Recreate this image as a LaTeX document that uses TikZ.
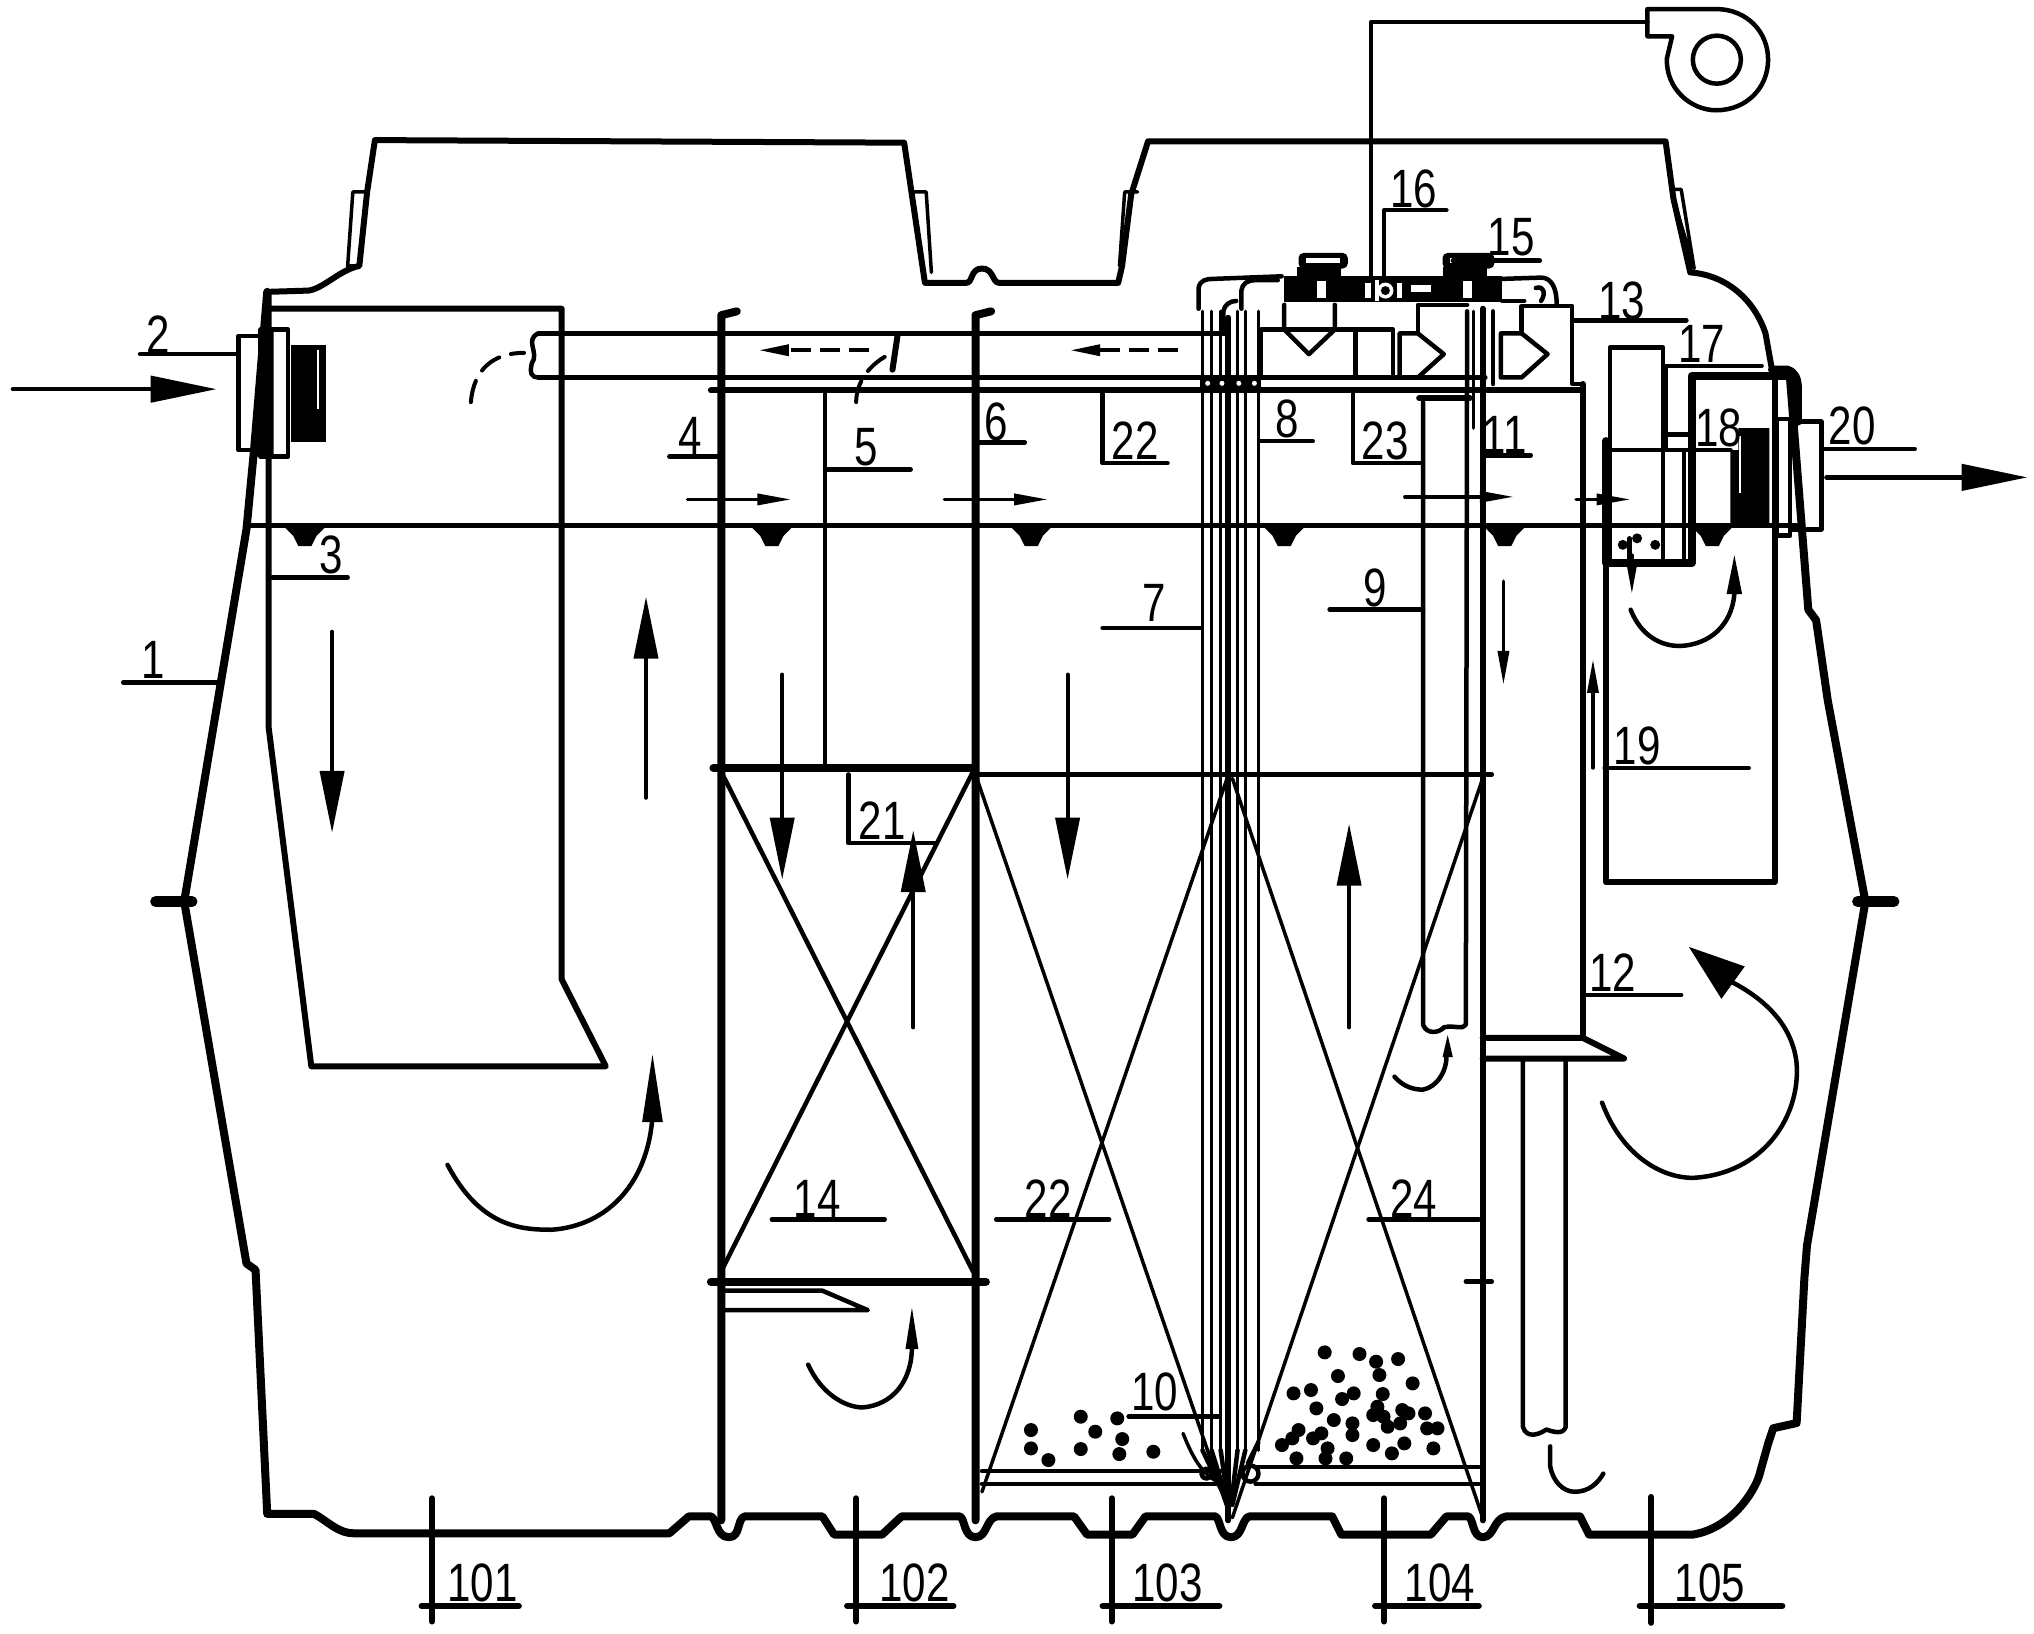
\documentclass[tikz,border=0pt]{standalone}
\usepackage{fontspec}
\setmainfont[FakeStretch=0.78]{Liberation Sans}
\usetikzlibrary{arrows.meta}
\tikzset{
  wall/.style={line width=6pt,line join=round,line cap=round},
  thick wall/.style={line width=8pt,line join=round,line cap=round},
  ln/.style={line width=4.5pt,line join=round,line cap=round},
  fine/.style={line width=3.5pt,line join=round,line cap=round},
  lab/.style={inner sep=0pt,font=\fontsize{54}{54}\selectfont},
  bigflow/.style={line width=4.5pt,line cap=round,-{Triangle[length=66pt,width=26pt]}},
  midflow/.style={line width=4pt,line cap=round,-{Triangle[length=62pt,width=24pt]}},
  smallflow/.style={line width=3.5pt,line cap=round,-{Triangle[length=34pt,width=11pt]}},
  dashflow/.style={line width=3.5pt,dash pattern=on 20pt off 9pt,-{Triangle[length=30pt,width=11pt]}},
  curveln/.style={line width=4.5pt,line cap=round},
  dashcurve/.style={line width=4pt,line cap=round,dash pattern=on 22pt off 12pt},
}
\begin{document}
\begin{tikzpicture}[x=1.2972pt,y=-1.2972pt]
\useasboundingbox (0,0) rectangle (1568,1259.6);
\fill[white] (0,0) rectangle (1568,1259.6);

% ---------- outer tank
\draw[thick wall] (206,225) -- (196,345) -- (190,408) -- (142,695) -- (190,974) -- (197,979) -- (206,1167) -- (242,1167)
  .. controls (252,1172) and (260,1182) .. (273,1182) -- (516,1182) -- (531,1169) -- (548,1169)
  .. controls (553,1171) and (552,1185) .. (562,1185) .. controls (571,1185) and (568,1171) .. (574,1169)
  -- (634,1169) -- (643,1183) -- (680,1183) -- (695,1169) -- (740,1169)
  .. controls (744,1171) and (743,1185) .. (752,1185) .. controls (761,1185) and (760,1171) .. (768,1169)
  -- (828,1169) -- (838,1183) -- (873,1183) -- (883,1169) -- (937,1169)
  .. controls (941,1171) and (940,1185) .. (949,1185) .. controls (958,1185) and (957,1171) .. (963,1169)
  -- (1027,1169) -- (1034,1183) -- (1103,1183) -- (1115,1169) -- (1132,1169)
  .. controls (1136,1171) and (1135,1185) .. (1143,1185) .. controls (1152,1185) and (1151,1171) .. (1161,1169)
  -- (1218,1169) -- (1225,1183) -- (1305,1183) .. controls (1335,1178) and (1352,1150) .. (1356,1138)
  -- (1363,1113) -- (1367,1101) -- (1385,1097) -- (1391,985) -- (1393,960) -- (1438,695) -- (1409,540) -- (1400,478) -- (1394,470) -- (1380,293);
\draw[thick wall] (1366,285) -- (1378,285) .. controls (1384,287) and (1386,292) .. (1386,300) -- (1386,325);
\draw[wall] (1366,285) -- (1361,257) .. controls (1352,230) and (1330,212) .. (1303,210) -- (1290,153) -- (1284,109) -- (885,109) -- (872,150) -- (865,205) -- (862,218)
  -- (770,218) .. controls (765,218) and (766,207) .. (757,207) .. controls (748,207) and (750,218) .. (745,218) -- (713,218) -- (697,110) -- (289,108) -- (283,148) -- (277,205)
  .. controls (262,208) and (250,222) .. (238,224) -- (206,225);
% lid wedges and waist nubs
\draw[fine] (1290,146) -- (1296,146) -- (1306,207) -- (1290,153);
\draw[fine] (282,148) -- (272,148) -- (268,205) -- (277,205);
\draw[fine] (705,148) -- (714,148) -- (718,210);
\draw[fine] (877,148) -- (867,148) -- (863,205);
\draw[line width=11pt,line cap=round] (120,695) -- (148,695);
\draw[line width=11pt,line cap=round] (1432,695) -- (1460,695);

% ---------- inlet baffle
\draw[wall] (207,225) -- (207,560) -- (240,822) -- (467,822) -- (433,755) -- (433,238) -- (207,238);

% ---------- water level and skimmer caps
\draw[ln] (190,405) -- (1385,405);
\foreach \c in {235,595,795,990,1160,1320}
  \fill (\c-17,405) -- (\c-9,413) -- (\c-5,421) -- (\c+5,421) -- (\c+9,413) -- (\c+17,405) -- cycle;

% ---------- partition walls
\draw[thick wall] (568,240) -- (556,243) -- (556,1172);
\draw[thick wall] (764,240) -- (752,243) -- (752,1172);
\draw[wall] (1143,238) -- (1143,1172);

% ---------- top pipe and beams
\draw[ln] (415,257) -- (945,257);
\draw[ln] (415,291) -- (1145,291);
\draw[ln] (415,257) .. controls (404,262) and (416,272) .. (410,280) .. controls (408,288) and (410,291) .. (415,291);
\draw[line width=6pt,line cap=round] (692,258) -- (688,285);
\draw[wall] (548,301) -- (1220,301);
\draw[ln] (636,301) -- (636,590);

% ---------- media decks
\draw[thick wall] (550,592) -- (750,592);
\draw[ln] (750,597) -- (1150,597);
\draw[thick wall] (548,988) -- (760,988);
\draw[ln] (1130,988) -- (1150,988);
\draw[ln] (559,995) -- (634,995) -- (669,1010) -- (559,1010);
% X media
\draw[ln] (556,595) -- (750,980);
\draw[ln] (750,595) -- (556,980);
\draw[fine] (752,597) -- (947,1165);
\draw[fine] (947,597) -- (757,1150);
\draw[fine] (950,600) -- (1143,1170);
\draw[fine] (1143,600) -- (950,1170);
% lower sieve plates
\draw[ln] (757,1134) -- (945,1134);
\draw[ln] (757,1144) -- (945,1144);
\draw[ln] (968,1131) -- (1140,1131);
\draw[ln] (968,1144) -- (1140,1144);
% packing grains
\foreach \a/\b in {195/540,195/595,237/630,315/500,350/545,315/597,403/505,415/567,408/612,490/605,
  903/307,987/312,1027/335,1035/375,1080/327,935/378,1115/400,828/430,870/420,973/430,945/447,1043/432,883/475,1030/470,1020/495,1045/500,925/510,1090/480,1105/490,1145/490,1085/520,1055/530,970/520,970/555,840/540,825/565,800/585,895/550,875/565,1150/535,1175/535,1020/585,1095/580,1065/610,1165/595,910/595,835/625,955/625,905/625}
  \fill ({732.4+\a/3.127},{963.6+\b/3.89}) circle (7pt);

% ---------- vertical air pipes
\foreach \v in {927,934,941,954,960,970}
  \draw[fine] (\v,240) -- (\v,1118);
\draw[wall] (947,245) -- (947,1172);
\draw[ln] (927,1118) -- (947,1160);
\draw[ln] (934,1118) -- (947,1160);
\draw[ln] (941,1118) -- (947,1160);
\draw[ln] (954,1118) -- (949,1160);
\draw[ln] (960,1118) -- (950,1160);
\draw[ln] (970,1112) -- (962,1128);
\draw[ln] (930,1136) circle (5pt);
\draw[ln] (964,1136) circle (8pt);
\draw[fine] (912,1105) .. controls (918,1120) and (925,1135) .. (938,1142);
% band below pipe with white holes
\fill (925,290) rectangle (972,301);
\foreach \h in {931,942,955,967}
  \fill[white] (\h,295.5) circle (2.5pt);

% ---------- pipe 9
\draw[ln] (1097,310) -- (1097,790) .. controls (1100,798) and (1110,796) .. (1113,792) .. controls (1120,790) and (1128,794) .. (1130,790) -- (1131,240);
\draw[wall] (1094,307) -- (1133,307);
\draw[fine] (1136,240) -- (1136,330);

% ---------- pipe 12 + deflector
\draw[wall] (1220,296) -- (1220,800);
\draw[wall] (1143,800) -- (1220,800) -- (1252,816) -- (1143,816);
\draw[ln] (1174,816) -- (1174,1100) .. controls (1177,1110) and (1188,1105) .. (1192,1102) .. controls (1198,1104) and (1205,1106) .. (1207,1100) -- (1207,816);

% ---------- top pipework: valves, manifold, curls
\fill (990,213) rectangle (1158,233);
\fill (1000,206) rectangle (1034,213);
\fill (1112,206) rectangle (1146,213);
\fill[rounded corners=5pt] (1001,195) rectangle (1039,207);
\fill[rounded corners=5pt] (1112,195) rectangle (1152,207);
\fill[white] (1007,199) rectangle (1033,203);
\fill[white] (1118,199) rectangle (1145,203);
\fill[white] (1015,217) rectangle (1022,230);
\fill[white] (1128,217) rectangle (1135,230);
\fill[white] (1052,218) rectangle (1057,230);
\fill[white] (1077,218) rectangle (1081,230);
\fill[white] (1088,220) rectangle (1103,225);
\fill[white] (1068,224) circle (8pt);
\fill (1068,224) circle (4.5pt);
\fill[white] (1060,216) rectangle (1063,232);
\draw[ln] (924,238) -- (924,222) .. controls (925,216) and (930,215) .. (935,215) -- (988,213);
\draw[ln] (957,238) -- (957,224) .. controls (958,218) and (962,216) .. (968,216) -- (985,216);
\draw[ln] (943,254) -- (943,240) .. controls (944,235) and (948,232) .. (953,232);
\fill[white] (982,218) rectangle (988,228);
\draw[ln] (1158,215) -- (1188,214) .. controls (1196,214) and (1200,222) .. (1200,234);
\draw[ln] (1158,232) -- (1175,232);
\draw[ln] (1188,232) .. controls (1192,226) and (1190,220) .. (1184,222);
% check valves
\draw[ln] (972,254) rectangle (1045,291);
\draw[ln] (1045,254) rectangle (1074,291);
\draw[ln] (990,235) -- (990,254) -- (1009,273) -- (1029,254) -- (1029,235);
\draw[ln] (1079,257) -- (1093,257) -- (1113,273) -- (1093,291) -- (1079,291) -- cycle;
\draw[ln] (1093,257) -- (1093,235) -- (1131,235);
\draw[ln] (1157,257) -- (1173,257) -- (1193,273) -- (1173,291) -- (1157,291) -- cycle;
\draw[ln] (1173,257) -- (1173,236) -- (1212,236) -- (1212,295);
\draw[ln] (1151,240) -- (1151,296);

% ---------- blower
\draw[ln] (1057,213) -- (1057,17) -- (1270,17);
\draw[ln] (1270,28) -- (1270,7) -- (1323,7) .. controls (1346,7) and (1363,24) .. (1363,46) .. controls (1363,68) and (1346,85) .. (1323,85) .. controls (1303,85) and (1284,68) .. (1285,45) -- (1289,28) -- cycle;
\draw[ln] (1323.5,46) ellipse (24pt and 24pt);

% ---------- final settling chamber and outlet
\draw[wall] (1238,340) -- (1238,680) -- (1368,680) -- (1368,285);
\draw[ln] (1241,434) -- (1241,268) -- (1282,268) -- (1282,434);
\draw[thick wall] (1238,340) -- (1238,434) -- (1304,434) -- (1304,290) -- (1380,290);
\draw[ln] (1241,347) -- (1334,347);
\draw[ln] (1282,335) -- (1302,335);
\draw[ln] (1298,347) -- (1298,432);
\fill (1251,420) circle (5pt) (1262,415) circle (5pt) (1276,420) circle (5pt);
\draw[ln] (1256,415) -- (1256,431);
\draw[ln] (1212,296) -- (1220,296);
% outlet flange and screen
\fill (1334,347) -- (1340,347) -- (1340,330) -- (1364,330) -- (1364,404) -- (1334,404) -- cycle;
\draw[white,line width=2pt] (1341,336) -- (1341,380);
\draw[ln] (1370,323) rectangle (1380,413);
\draw[ln] (1380,325) rectangle (1404,408);
% inlet flange and screen
\draw[ln] (184,259) rectangle (201,347);
\draw[ln] (201,254) rectangle (222,352);
\fill (201,254) -- (211,254) -- (211,352) -- (197,352) -- cycle;
\fill (224,266) rectangle (251,341);
\draw[white,line width=2pt] (245,270) -- (245,315);

% ---------- flow arrows
\draw[bigflow] (10,300) -- (167,300);
\draw[bigflow] (1408,368) -- (1563,368);
\draw[midflow] (256,487) -- (256,642);
\draw[midflow] (498,615) -- (498,460);
\draw[midflow] (603,520) -- (603,678);
\draw[midflow] (704,792) -- (704,640);
\draw[midflow] (823,520) -- (823,678);
\draw[midflow] (1040,792) -- (1040,635);
\draw[smallflow] (530,385) -- (610,385);
\draw[smallflow] (728,385) -- (808,385);
\draw[smallflow] (1083,383) -- (1167,383);
\draw[smallflow] (1215,385) -- (1257,385);
\draw[smallflow] (1159,448) -- (1159,528);
\draw[smallflow] (1228,592) -- (1228,508);
\draw[smallflow] (1258,428) -- (1258,458);
\draw[dashflow] (670,270) -- (585,270);
\draw[dashflow] (908,270) -- (825,270);
\draw[dashcurve] (363,310) .. controls (365,285) and (380,272) .. (404,272);
\draw[dashcurve] (660,310) .. controls (660,295) and (670,280) .. (688,272);
% curved flow
\draw[curveln] (345,898) .. controls (370,945) and (400,948) .. (425,948) .. controls (470,945) and (500,910) .. (503,860);
\fill (503,813) -- (511,865) -- (495,865) -- cycle;
\draw[curveln] (623,1052) .. controls (635,1078) and (655,1085) .. (665,1085) .. controls (688,1083) and (703,1065) .. (703,1038);
\fill (703,1008) -- (708,1040) -- (698,1040) -- cycle;
\draw[curveln] (1235,850) .. controls (1250,890) and (1280,908) .. (1305,908) .. controls (1360,905) and (1388,860) .. (1385,820) .. controls (1382,790) and (1360,770) .. (1335,757);
\fill (1302,730) -- (1345,745) -- (1327,770) -- cycle;
\draw[curveln] (1257,470) .. controls (1265,490) and (1280,498) .. (1295,498) .. controls (1318,497) and (1335,482) .. (1337,458);
\fill (1337,428) -- (1343,458) -- (1331,458) -- cycle;
\draw[curveln] (1075,830) .. controls (1082,838) and (1090,840) .. (1097,840) .. controls (1108,838) and (1116,825) .. (1115,812);
\fill (1116,798) -- (1120,815) -- (1112,815) -- cycle;
\draw[curveln] (1195,1115) -- (1195,1130) .. controls (1197,1142) and (1205,1150) .. (1214,1150) .. controls (1225,1150) and (1232,1143) .. (1236,1136);

% ---------- labels and leaders
\node[lab] (n1) at (118,509) {1};   \draw[ln] (95,526) -- (170,526);
\node[lab] (n2) at (122,258) {2};   \draw[ln] (108,273) -- (184,273);
\node[lab] (n3) at (255,428) {3};   \draw[ln] (210,445) -- (268,445);
\node[lab] (n4) at (532,336) {4};   \draw[ln] (516,352) -- (555,352);
\node[lab] (n5) at (668,345) {5};   \draw[ln] (636,362) -- (702,362);
\node[lab] (n6) at (768,325) {6};   \draw[ln] (752,341) -- (790,341);
\node[lab] (n7) at (890,465) {7};   \draw[ln] (850,484) -- (926,484);
\node[lab] (n8) at (992,323) {8};   \draw[ln] (972,340) -- (1012,340);
\node[lab] (n9) at (1060,453) {9};  \draw[ln] (1025,470) -- (1097,470);
\node[lab] (n10) at (890,1073) {10}; \draw[ln] (870,1092) -- (940,1092);
\node[lab] (n11) at (1160,335) {11}; \draw[ln] (1143,351) -- (1180,351);
\node[lab] (n12) at (1243,750) {12}; \draw[ln] (1220,767) -- (1296,767);
\node[lab] (n13) at (1250,232) {13}; \draw[ln] (1212,247) -- (1300,247);
\node[lab] (n14) at (630,924) {14}; \draw[ln] (595,940) -- (682,940);
\node[lab] (n15) at (1165,183) {15}; \draw[ln] (1120,201) -- (1187,201);
\node[lab] (n16) at (1090,146) {16}; \draw[ln] (1115,162) -- (1067,162) -- (1067,215);
\node[lab] (n17) at (1312,265) {17}; \draw[ln] (1358,282) -- (1284,282) -- (1284,345);
\node[lab] (n18) at (1325,330) {18};
\node[lab] (n19) at (1262,575) {19}; \draw[ln] (1237,592) -- (1348,592);
\node[lab] (n20) at (1428,328) {20}; \draw[ln] (1404,346) -- (1476,346);
\node[lab] (n21) at (680,633) {21}; \draw[ln] (654,597) -- (654,650) -- (722,650);
\node[lab] (n22a) at (875,340) {22}; \draw[ln] (850,301) -- (850,357) -- (900,357);
\node[lab] (n23) at (1068,340) {23}; \draw[ln] (1043,301) -- (1043,357) -- (1095,357);
\node[lab] (n22b) at (808,924) {22}; \draw[ln] (768,940) -- (855,940);
\node[lab] (n24) at (1090,924) {24}; \draw[ln] (1055,940) -- (1140,940);
\node[lab] (n101) at (372,1220) {101}; \draw[wall] (325,1238) -- (400,1238); \draw[wall] (333,1155) -- (333,1250);
\node[lab] (n102) at (705,1220) {102}; \draw[wall] (653,1238) -- (735,1238); \draw[wall] (660,1155) -- (660,1250);
\node[lab] (n103) at (900,1220) {103}; \draw[wall] (850,1238) -- (940,1238); \draw[wall] (857,1155) -- (857,1250);
\node[lab] (n104) at (1110,1220) {104}; \draw[wall] (1060,1238) -- (1140,1238); \draw[wall] (1067,1155) -- (1067,1250);
\node[lab] (n105) at (1318,1220) {105}; \draw[wall] (1264,1238) -- (1374,1238); \draw[wall] (1273,1154) -- (1273,1251);
\end{tikzpicture}
\end{document}
